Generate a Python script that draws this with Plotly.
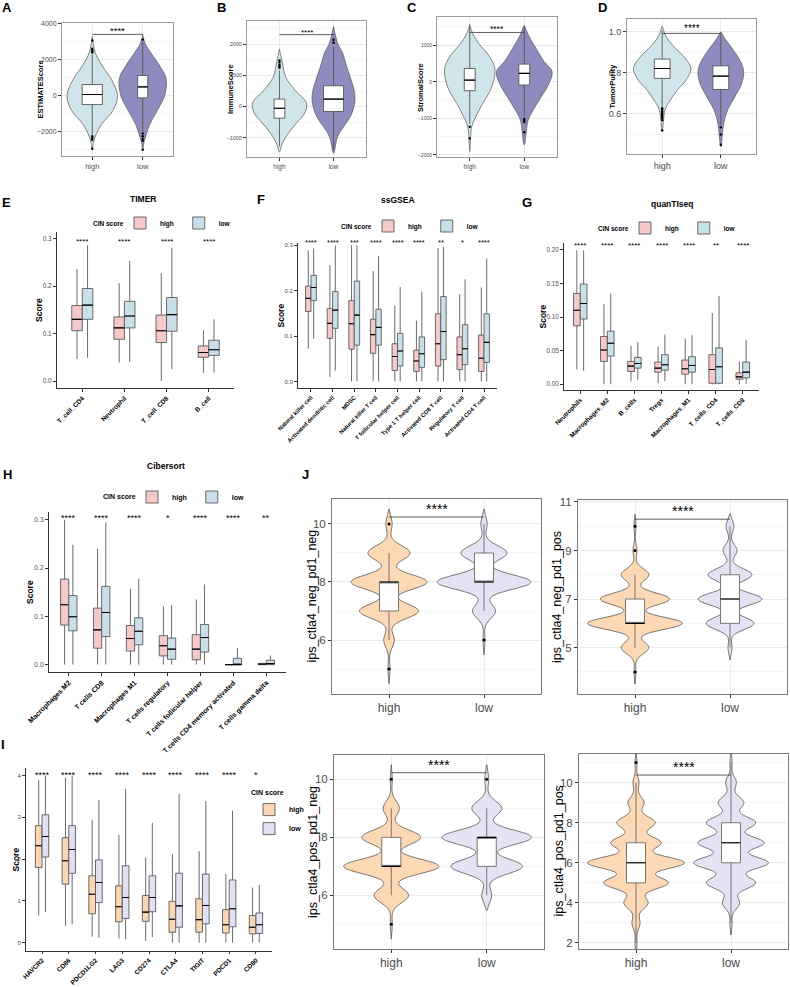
import numpy as np
import plotly.graph_objects as go

W, H = 790, 987
FONT = "Liberation Sans, Arial, Helvetica, sans-serif"
TXT = "#4D4D4D"
AX = "#333333"
GRID = "#EBEBEB"
GRID_MINOR = "#F5F5F5"

groups = ["high", "low"]

# ---------------- A-D : violin density profiles (relative density) + box stats ----------------
A_high_y = [-3000, -2600, -2260, -1610, -780, 0, 890, 1630, 2370, 2800, 3260]
A_high_d = [0, 0.05, 0.12, 0.36, 0.84, 1.0, 0.76, 0.40, 0.12, 0.05, 0]
A_low_y = [-3000, -2600, -2260, -1610, -780, 55, 980, 1630, 2370, 2900, 3390]
A_low_d = [0, 0.05, 0.13, 0.30, 0.65, 0.96, 1.0, 0.74, 0.35, 0.10, 0]
A_q1 = [-500, -130]; A_med = [55, 480]; A_q3 = [610, 1110]; A_lo = [-2150, -1990]; A_hi = [2270, 2970]
A_high_out = [2380, 2450, 2520, 2600, 3050, -2250, -2350, -2450, -2950]
A_low_out = [3100, -2100, -2250, -2400, -2500, -3000]

B_high_y = [-1450, -1180, -860, -535, -215, 110, 540, 970, 1400, 1850]
B_high_d = [0, 0.11, 0.33, 0.63, 0.93, 1.0, 0.56, 0.22, 0.11, 0]
B_low_y = [-1500, -970, -645, -320, 110, 430, 805, 1290, 1720, 2045, 2580]
B_low_d = [0, 0.19, 0.48, 0.80, 1.0, 1.0, 0.86, 0.62, 0.43, 0.19, 0]
B_q1 = [-375, -160]; B_med = [-55, 240]; B_q3 = [240, 670]; B_lo = [-1280, -1400]; B_hi = [1160, 1915]
B_high_out = [1250, 1300, 1350, 1420, 1480]
B_low_out = [2050, 2150]

C_high_y = [-1910, -1230, -910, -590, -270, 45, 365, 685, 1050, 1320, 1570]
C_high_d = [0, 0.08, 0.28, 0.52, 0.80, 0.96, 1.0, 0.80, 0.36, 0.12, 0]
C_low_y = [-1730, -1050, -775, -410, -45, 280, 555, 866, 1230, 1550]
C_low_d = [0, 0.14, 0.32, 0.61, 0.89, 1.0, 0.71, 0.46, 0.18, 0]
C_q1 = [-245, -90]; C_med = [45, 230]; C_q3 = [365, 483]; C_lo = [-1150, -940]; C_hi = [1530, 1520]
C_high_out = [-1230, -1550]
C_low_out = [-1020, -1060, -1100, -1380]

D_high_y = [0.515, 0.62, 0.666, 0.715, 0.764, 0.821, 0.878, 0.927, 0.976, 1.028]
D_high_d = [0, 0.10, 0.28, 0.52, 0.83, 1.0, 0.76, 0.41, 0.14, 0]
D_low_y = [0.44, 0.555, 0.62, 0.683, 0.748, 0.805, 0.854, 0.915, 0.96, 1.0]
D_low_d = [0, 0.13, 0.30, 0.61, 0.91, 1.0, 0.87, 0.52, 0.22, 0]
D_q1 = [0.773, 0.719]; D_med = [0.821, 0.784]; D_q3 = [0.867, 0.834]; D_lo = [0.635, 0.547]; D_hi = [1.005, 0.99]
D_high_out = [0.628, 0.62, 0.612, 0.605, 0.598, 0.59, 0.58, 0.57, 0.52]
D_low_out = [0.535, 0.50, 0.45]

# ---------------- E : TIMER ----------------
E_cats = ["T_cell_CD4", "Neutrophil", "T_cell_CD8", "B_cell"]
E_sig = ["****", "****", "****", "****"]
E_high_lo = [0.046, 0.039, 0.000, 0.017]
E_high_q1 = [0.106, 0.088, 0.081, 0.050]
E_high_med = [0.130, 0.112, 0.106, 0.060]
E_high_q3 = [0.159, 0.135, 0.139, 0.074]
E_high_hi = [0.236, 0.206, 0.227, 0.107]
E_low_lo = [0.049, 0.040, 0.025, 0.018]
E_low_q1 = [0.130, 0.112, 0.105, 0.054]
E_low_med = [0.160, 0.137, 0.140, 0.066]
E_low_q3 = [0.195, 0.168, 0.176, 0.086]
E_low_hi = [0.286, 0.253, 0.281, 0.130]

# ---------------- F : ssGSEA ----------------
F_cats = ["Natural killer cell", "Activated dendritic cell", "MDSC", "Natural killer T cell",
          "T follicular helper cell", "Type 1 T helper cell", "Activated CD8 T cell",
          "Regulatory T cell", "Activated CD4 T cell"]
F_sig = ["****", "****", "***", "****", "****", "****", "**", "*", "****"]
F_high_lo = [0.072, 0.010, 0, 0, 0, 0, 0, 0, 0]
F_high_q1 = [0.154, 0.095, 0.071, 0.062, 0.024, 0.022, 0.034, 0.026, 0.022]
F_high_med = [0.183, 0.128, 0.127, 0.103, 0.055, 0.045, 0.083, 0.059, 0.051]
F_high_q3 = [0.210, 0.161, 0.178, 0.137, 0.083, 0.069, 0.149, 0.098, 0.102]
F_high_hi = [0.289, 0.256, 0.300, 0.243, 0.167, 0.134, 0.294, 0.192, 0.207]
F_low_lo = [0.094, 0.024, 0, 0, 0, 0, 0, 0, 0]
F_low_q1 = [0.178, 0.117, 0.080, 0.080, 0.034, 0.031, 0.048, 0.037, 0.042]
F_low_med = [0.207, 0.157, 0.146, 0.119, 0.067, 0.061, 0.110, 0.072, 0.086]
F_low_q3 = [0.234, 0.198, 0.221, 0.159, 0.106, 0.098, 0.187, 0.125, 0.149]
F_low_hi = [0.293, 0.300, 0.300, 0.276, 0.208, 0.198, 0.296, 0.225, 0.271]

# ---------------- G : quanTIseq ----------------
G_cats = ["Neutrophils", "Macrophages_M2", "B_cells", "Tregs", "Macrophages_M1", "T_cells_CD4", "T_cells_CD8"]
G_sig = ["****", "****", "****", "****", "****", "**", "****"]
G_high_lo = [0.022, 0, 0.004, 0.0015, 0, 0, 0]
G_high_q1 = [0.087, 0.034, 0.019, 0.018, 0.015, 0.0015, 0.0075]
G_high_med = [0.110, 0.051, 0.027, 0.024, 0.023, 0.022, 0.011]
G_high_q3 = [0.135, 0.071, 0.034, 0.033, 0.036, 0.044, 0.017]
G_high_hi = [0.199, 0.119, 0.057, 0.056, 0.068, 0.106, 0.034]
G_low_lo = [0.020, 0, 0.0065, 0.0045, 0, 0, 0.001]
G_low_q1 = [0.097, 0.042, 0.024, 0.021, 0.018, 0.0015, 0.0095]
G_low_med = [0.120, 0.061, 0.031, 0.029, 0.028, 0.026, 0.018]
G_low_q3 = [0.149, 0.079, 0.040, 0.044, 0.041, 0.054, 0.033]
G_low_hi = [0.199, 0.135, 0.063, 0.074, 0.073, 0.131, 0.066]

# ---------------- H : Cibersort ----------------
H_cats = ["Macrophages M2", "T cells CD8", "Macrophages M1", "T cells regulatory",
          "T cells follicular helper", "T cells CD4 memory activated", "T cells gamma delta"]
H_sig = ["****", "****", "****", "*", "****", "****", "**"]
H_high_lo = [0, 0, 0, 0, 0, 0, 0]
H_high_q1 = [0.082, 0.034, 0.028, 0.018, 0.010, 0, 0]
H_high_med = [0.124, 0.072, 0.054, 0.039, 0.032, 0, 0.001]
H_high_q3 = [0.177, 0.117, 0.081, 0.060, 0.062, 0, 0.002]
H_high_hi = [0.300, 0.240, 0.157, 0.121, 0.135, 0, 0.004]
H_low_lo = [0, 0, 0, 0, 0, 0, 0]
H_low_q1 = [0.070, 0.058, 0.041, 0.011, 0.026, 0, 0]
H_low_med = [0.099, 0.108, 0.069, 0.032, 0.056, 0, 0.002]
H_low_q3 = [0.143, 0.162, 0.097, 0.055, 0.083, 0.013, 0.009]
H_low_hi = [0.248, 0.294, 0.178, 0.123, 0.166, 0.034, 0.019]

# ---------------- I : immune checkpoints ----------------
I_cats = ["HAVCR2", "CD86", "PDCD1LG2", "LAG3", "CD274", "CTLA4", "TIGIT", "PDCD1", "CD80"]
I_sig = ["****", "****", "****", "****", "****", "****", "****", "****", "*"]
I_high_lo = [0.65, 0.40, 0.14, 0.10, 0.04, 0, 0, 0, 0]
I_high_q1 = [1.80, 1.40, 0.69, 0.50, 0.51, 0.25, 0.25, 0.23, 0.21]
I_high_med = [2.32, 1.96, 1.16, 0.86, 0.73, 0.56, 0.55, 0.43, 0.37]
I_high_q3 = [2.80, 2.51, 1.60, 1.36, 1.13, 0.99, 1.05, 0.79, 0.65]
I_high_hi = [3.89, 3.95, 2.94, 2.58, 2.04, 2.12, 2.19, 1.64, 1.32]
I_low_lo = [0.73, 0.44, 0.12, 0.08, 0.13, 0, 0, 0, 0]
I_low_q1 = [2.05, 1.66, 0.96, 0.58, 0.74, 0.37, 0.45, 0.38, 0.22]
I_low_med = [2.54, 2.23, 1.44, 1.08, 1.08, 0.88, 0.89, 0.81, 0.43]
I_low_q3 = [3.06, 2.80, 1.98, 1.84, 1.60, 1.66, 1.64, 1.50, 0.71]
I_low_hi = [4.00, 4.00, 3.42, 3.68, 2.87, 3.56, 3.39, 3.16, 1.38]

# ---------------- J : IPS scores (counts of patients per integer score) ----------------
J1_vals = [5, 6, 7, 8, 9, 10]
J1_high_n = [1, 5, 28, 36, 20, 3]
J1_low_n = [0, 1, 11, 45, 22, 3]
J1_q1 = [7, 8]; J1_med = [8, 8]; J1_q3 = [8, 9]; J1_lo = [6, 7]; J1_hi = [9, 10]
J1_high_out = [5, 10]; J1_low_out = [6]

J2_vals = [4, 5, 6, 7, 8, 9, 10]
J2_high_n = [1, 14, 48, 35, 14, 2, 1]
J2_low_n = [0, 2, 24, 32, 22, 7, 4]
J2_q1 = [6, 6]; J2_med = [6, 7]; J2_q3 = [7, 8]; J2_lo = [5, 5]; J2_hi = [8, 10]
J2_high_out = [4, 9, 10]; J2_low_out = []

J3_vals = [5, 6, 7, 8, 9, 10]
J3_high_n = [1, 17, 47, 29, 8, 1]
J3_low_n = [0, 5, 36, 45, 15, 2]
J3_q1 = [7, 7]; J3_med = [7, 8]; J3_q3 = [8, 8]; J3_lo = [6, 6]; J3_hi = [9, 9]
J3_high_out = [5, 10]; J3_low_out = [10]

J4_vals = [2, 3, 4, 5, 6, 7, 8, 9, 10, 11]
J4_high_n = [1, 4, 12, 32, 48, 25, 19, 8, 3, 1]
J4_low_n = [0, 1, 8, 23, 35, 31, 23, 12, 5, 1]
J4_q1 = [5, 6]; J4_med = [6, 7]; J4_q3 = [7, 8]; J4_lo = [2, 3]; J4_hi = [10, 11]
J4_high_out = [11]; J4_low_out = []

# ---------------- colours ----------------
AD_COL = ["#CFE5EA", "#8E8CBE"]
EH_COL = ["#F5C9C9", "#C9E0EA"]
I_COL = ["#FAD6B2", "#E1E1F3"]
J_COL = ["#FCD8B5", "#E3E3F4"]

fig = go.Figure()
layout = dict(width=W, height=H, margin=dict(l=0, r=0, t=0, b=0),
              paper_bgcolor="white", plot_bgcolor="white", showlegend=True,
              boxmode="overlay", violinmode="overlay", font=dict(family=FONT, color="black"))
ann = []
shp = []
axis_idx = [0]


def _next():
    axis_idx[0] += 1
    n = axis_idx[0]
    return "" if n == 1 else str(n)


def make_axes(xdom, ydom, xcfg, ycfg):
    s = _next()
    layout["xaxis" + s] = dict(domain=[xdom[0] / W, xdom[1] / W], anchor="y" + s, automargin=False, **xcfg)
    layout["yaxis" + s] = dict(domain=[1 - ydom[1] / H, 1 - ydom[0] / H], anchor="x" + s, automargin=False, **ycfg)
    return "x" + s, "y" + s


def overlay_axes(xr, yr, xdom, ydom, xrange, yrange):
    s = _next()
    layout["xaxis" + s] = dict(domain=[xdom[0] / W, xdom[1] / W], anchor="y" + s, overlaying=xr,
                               range=xrange, visible=False, automargin=False)
    layout["yaxis" + s] = dict(domain=[1 - ydom[1] / H, 1 - ydom[0] / H], anchor="x" + s, overlaying=yr,
                               range=yrange, visible=False, automargin=False)
    return "x" + s, "y" + s


def bw_panel(xdom, ydom, yrange, tick0, dtick, mdtick, tick_fs, xtick_fs, frame, fmt):
    xcfg = dict(range=[0.4, 2.6], tickmode="array", tickvals=[1, 2], ticktext=groups,
                showgrid=True, gridcolor=GRID, gridwidth=0.8, zeroline=False, showline=True,
                mirror=True, linecolor=frame, linewidth=1, ticks="outside", ticklen=3,
                tickcolor=AX, tickwidth=0.8, tickfont=dict(size=xtick_fs, color=TXT))
    ycfg = dict(range=yrange, tickmode="linear", tick0=tick0, dtick=dtick, tickformat=fmt,
                showgrid=True, gridcolor=GRID, gridwidth=0.8, zeroline=False, showline=True,
                mirror=True, linecolor=frame, linewidth=1, ticks="outside", ticklen=3,
                tickcolor=AX, tickwidth=0.8, tickfont=dict(size=tick_fs, color=TXT),
                minor=dict(tick0=tick0, dtick=mdtick, showgrid=True, gridcolor=GRID_MINOR,
                           gridwidth=0.6, ticks=""))
    return make_axes(xdom, ydom, xcfg, ycfg)


def classic_panel(xdom, ydom, cats, yrange, dtick, fmt, ytick_fs, xtick_fs, ticklen=3):
    xcfg = dict(range=[0.4, len(cats) + 0.6], tickmode="array", tickvals=list(range(1, len(cats) + 1)),
                ticktext=cats, tickangle=-45, showgrid=False, zeroline=False, showline=True,
                linecolor=AX, linewidth=1, ticks="outside", ticklen=ticklen, tickcolor=AX, tickwidth=0.8,
                tickfont=dict(size=xtick_fs, color="black", family=FONT, weight="bold"))
    ycfg = dict(range=yrange, tickmode="linear", tick0=0, dtick=dtick, tickformat=fmt,
                showgrid=False, zeroline=False, showline=True, linecolor=AX, linewidth=1,
                ticks="outside", ticklen=3, tickcolor=AX, tickwidth=0.8,
                tickfont=dict(size=ytick_fs, color=TXT))
    return make_axes(xdom, ydom, xcfg, ycfg)


def box(xr, yr, pos, lo, q1, med, q3, hi, width, color, line_col="#555555", name=None, legend=None):
    fig.add_trace(go.Box(x=pos, q1=q1, median=med, q3=q3, lowerfence=lo, upperfence=hi,
                         orientation="v", width=width, fillcolor=color,
                         line=dict(color=line_col, width=0.9), whiskerwidth=0, boxpoints=False,
                         name=name if name else "", legend=legend if legend else "legend",
                         showlegend=legend is not None, xaxis=xr, yaxis=yr, hoverinfo="skip"))
    fig.add_trace(go.Box(x=pos, q1=med, median=med, q3=med, lowerfence=med, upperfence=med,
                         orientation="v", width=width, fillcolor="rgba(0,0,0,0)",
                         line=dict(color="black", width=1.1), whiskerwidth=0, boxpoints=False,
                         showlegend=False, xaxis=xr, yaxis=yr, hoverinfo="skip"))


def profile(xr, yr, pos, ys, dens, halfw, color):
    ys = np.asarray(ys, float)
    d = np.asarray(dens, float) * halfw
    xs = np.concatenate([pos + d, (pos - d)[::-1]])
    yy = np.concatenate([ys, ys[::-1]])
    fig.add_trace(go.Scatter(x=xs, y=yy, mode="lines", fill="toself", fillcolor=color,
                             line=dict(color="#555555", width=0.7, shape="spline", smoothing=1.0),
                             hoverinfo="skip", showlegend=False, xaxis=xr, yaxis=yr))


def outliers(xr, yr, pos, vals, size=2.6):
    if len(vals) == 0:
        return
    fig.add_trace(go.Scatter(x=[pos] * len(vals), y=vals, mode="markers",
                             marker=dict(color="black", size=size), hoverinfo="skip",
                             showlegend=False, xaxis=xr, yaxis=yr))


def text(x, y, s, size, bold=False, angle=0, color="black", xref="paper", yref="paper", xanchor="center"):
    ann.append(dict(x=x, y=y, xref=xref, yref=yref, text=s, showarrow=False, textangle=angle,
                    xanchor=xanchor, yanchor="middle",
                    font=dict(size=size, color=color, family=FONT, weight="bold" if bold else "normal")))


def bracket(xr, yr, yv, ypx_text, fs):
    shp.append(dict(type="line", xref=xr, yref=yr, x0=1, x1=2, y0=yv, y1=yv,
                    line=dict(color="#333333", width=0.8)))
    text(1.5, 1 - (ypx_text + 0.22 * fs) / H, "****", fs, xref=xr)


# ================= A-D =================
AD = [
    dict(dom=((62, 173), (23, 156)), yr=[-3350, 4020], t0=0, dt=2000, mdt=1000, tfs=7, xfs=7.5, fmt="d",
         hy=A_high_y, hd=A_high_d, ly=A_low_y, ld=A_low_d, hw=(0.5, 0.46), bw=(0.4, 0.2),
         st=(A_lo, A_q1, A_med, A_q3, A_hi), out=(A_high_out, A_low_out), title="ESTIMATEScore",
         tx=40, br=3390, brt=28, sfs=9.5),
    dict(dom=((247, 366), (21, 157)), yr=[-1623, 2752], t0=0, dt=1000, mdt=500, tfs=5.5, xfs=6.5, fmt="d",
         hy=B_high_y, hd=B_high_d, ly=B_low_y, ld=B_low_d, hw=(0.5, 0.39), bw=(0.2, 0.37),
         st=(B_lo, B_q1, B_med, B_q3, B_hi), out=(B_high_out, B_low_out), title="ImmuneScore",
         tx=230, br=2313, brt=31, sfs=8),
    dict(dom=((437, 557), (17, 157)), yr=[-2060, 1773], t0=0, dt=1000, mdt=500, tfs=5, xfs=6.5, fmt="d",
         hy=C_high_y, hd=C_high_d, ly=C_low_y, ld=C_low_d, hw=(0.46, 0.51), bw=(0.2, 0.2),
         st=(C_lo, C_q1, C_med, C_q3, C_hi), out=(C_high_out, C_low_out), title="StromalScore",
         tx=421, br=1350, brt=27, sfs=8.5),
    dict(dom=((627, 756), (19, 154)), yr=[0.405, 1.062], t0=0, dt=0.2, mdt=0.1, tfs=9, xfs=9, fmt=".1f",
         hy=D_high_y, hd=D_high_d, ly=D_low_y, ld=D_low_d, hw=(0.49, 0.39), bw=(0.27, 0.27),
         st=(D_lo, D_q1, D_med, D_q3, D_hi), out=(D_high_out, D_low_out), title="TumorPurity",
         tx=612, br=0.992, brt=26, sfs=10),
]
for p in AD:
    xr, yr = bw_panel(p["dom"][0], p["dom"][1], p["yr"], p["t0"], p["dt"], p["mdt"], p["tfs"], p["xfs"],
                      "#9A9A9A", p["fmt"])
    profile(xr, yr, 1.0, p["hy"], p["hd"], p["hw"][0], AD_COL[0])
    profile(xr, yr, 2.0, p["ly"], p["ld"], p["hw"][1], AD_COL[1])
    # boxes on an overlaying axis pair so that they sit above the filled violins
    oxr, oyr = overlay_axes(xr, yr, p["dom"][0], p["dom"][1], [0.4, 2.6], p["yr"])
    lo, q1, med, q3, hi = p["st"]
    for g in range(2):
        box(oxr, oyr, [g + 1], [lo[g]], [q1[g]], [med[g]], [q3[g]], [hi[g]], p["bw"][g], "white", "#555555")
        outliers(oxr, oyr, g + 1, p["out"][g], size=2.4)
    bracket(xr, yr, p["br"], p["brt"], p["sfs"])
    ymid = (p["dom"][1][0] + p["dom"][1][1]) / 2
    text(p["tx"] / W, 1 - ymid / H, p["title"], 7.5, bold=True, angle=-90)

# ================= E-I =================
EI = [
    dict(dom=((57, 234), (232, 388)), cats=E_cats, sig=E_sig, yr=[-0.0147, 0.314], dt=0.1, fmt=".1f",
         tfs=6.5, xfs=6.5, col=EH_COL, sigy=240, sfs=8, tx=39, tl=3,
         h=(E_high_lo, E_high_q1, E_high_med, E_high_q3, E_high_hi),
         l=(E_low_lo, E_low_q1, E_low_med, E_low_q3, E_low_hi), leg="legend"),
    dict(dom=((298, 497), (243, 388)), cats=F_cats, sig=F_sig, yr=[-0.0145, 0.305], dt=0.1, fmt=".1f",
         tfs=6, xfs=5.8, col=EH_COL, sigy=241, sfs=7.5, tx=280, tl=3,
         h=(F_high_lo, F_high_q1, F_high_med, F_high_q3, F_high_hi),
         l=(F_low_lo, F_low_q1, F_low_med, F_low_q3, F_low_hi), leg="legend2"),
    dict(dom=((564, 759), (243, 390)), cats=G_cats, sig=G_sig, yr=[-0.0085, 0.210], dt=0.05, fmt=".2f",
         tfs=6.3, xfs=6.3, col=EH_COL, sigy=244, sfs=8, tx=543, tl=3,
         h=(G_high_lo, G_high_q1, G_high_med, G_high_q3, G_high_hi),
         l=(G_low_lo, G_low_q1, G_low_med, G_low_q3, G_low_hi), leg="legend3"),
    dict(dom=((49, 286), (512, 672)), cats=H_cats, sig=H_sig, yr=[-0.0153, 0.316], dt=0.1, fmt=".1f",
         tfs=6.7, xfs=7, col=EH_COL, sigy=516, sfs=9, tx=30, tl=3,
         h=(H_high_lo, H_high_q1, H_high_med, H_high_q3, H_high_hi),
         l=(H_low_lo, H_low_q1, H_low_med, H_low_q3, H_low_hi), leg="legend4"),
    dict(dom=((26, 272), (768, 951)), cats=I_cats, sig=I_sig, yr=[-0.2, 4.18], dt=1, fmt="d",
         tfs=6, xfs=6.5, col=I_COL, sigy=773, sfs=9, tx=15, tl=2,
         h=(I_high_lo, I_high_q1, I_high_med, I_high_q3, I_high_hi),
         l=(I_low_lo, I_low_q1, I_low_med, I_low_q3, I_low_hi), leg="legend5"),
]
for p in EI:
    xr, yr = classic_panel(p["dom"][0], p["dom"][1], p["cats"], p["yr"], p["dt"], p["fmt"], p["tfs"],
                           p["xfs"], p["tl"])
    n = len(p["cats"])
    for g, (st, off) in enumerate([(p["h"], -0.125), (p["l"], 0.125)]):
        pos = [i + 1 + off for i in range(n)]
        box(xr, yr, pos, st[0], st[1], st[2], st[3], st[4], 0.25, p["col"][g], "#5A5A5A",
            name=groups[g], legend=p["leg"])
    for i, s in enumerate(p["sig"]):
        text(i + 1, 1 - (p["sigy"] + 0.22 * p["sfs"]) / H, s, p["sfs"], xref=xr)
    ymid = (p["dom"][1][0] + p["dom"][1][1]) / 2
    text(p["tx"] / W, 1 - ymid / H, "Score", 8.5, bold=True, angle=-90)


def hleg(x0, cy, fs):
    # horizontal legend (items only); its title is written just to its left
    text((x0 + 6) / W, 1 - cy / H, "CIN score", fs, bold=True, xanchor="right")
    return dict(x=x0 / W, y=1 - cy / H, xanchor="left", yanchor="middle", orientation="h",
                font=dict(size=fs, weight="bold", family=FONT, color="black"),
                bgcolor="rgba(0,0,0,0)", itemwidth=30, tracegroupgap=0)


layout["legend"] = hleg(120, 223, 6.5)
layout["legend2"] = hleg(368, 226, 6.5)
layout["legend3"] = hleg(625, 228, 6.5)
layout["legend4"] = hleg(132, 497, 7)
layout["legend5"] = dict(x=249 / W, y=1 - 786 / H, xanchor="left", yanchor="top", orientation="v",
                         title=dict(text="CIN score", side="top", font=dict(size=7, weight="bold", family=FONT)),
                         font=dict(size=7, weight="bold", family=FONT, color="black"),
                         bgcolor="rgba(0,0,0,0)", itemwidth=30, tracegroupgap=0)

# panel titles
text(143 / W, 1 - 199 / H, "TIMER", 8.5, bold=True)
text(398 / W, 1 - 200 / H, "ssGSEA", 8.5, bold=True)
text(672 / W, 1 - 204 / H, "quanTIseq", 8.5, bold=True)
text(166 / W, 1 - 466 / H, "Cibersort", 8.5, bold=True)

# ================= J =================
JP = [
    dict(dom=((332, 541), (499, 694)), yr=[4.14, 10.86], t0=0, dt=2, vals=J1_vals, n=(J1_high_n, J1_low_n),
         st=(J1_lo, J1_q1, J1_med, J1_q3, J1_hi), out=(J1_high_out, J1_low_out), w=(0.8, 0.99), bwd=0.25,
         title="ips_ctla4_neg_pd1_neg", tx=311, br=10.24, brt=506),
    dict(dom=((578, 787), (500, 694)), yr=[3.09, 11.08], t0=1, dt=2, vals=J2_vals, n=(J2_high_n, J2_low_n),
         st=(J2_lo, J2_q1, J2_med, J2_q3, J2_hi), out=(J2_high_out, J2_low_out), w=(1.0, 0.67), bwd=0.25,
         title="ips_ctla4_neg_pd1_pos", tx=557, br=10.29, brt=508),
    dict(dom=((334, 544), (755, 949)), yr=[4.15, 10.84], t0=0, dt=2, vals=J3_vals, n=(J3_high_n, J3_low_n),
         st=(J3_lo, J3_q1, J3_med, J3_q3, J3_hi), out=(J3_high_out, J3_low_out), w=(1.0, 0.94), bwd=0.25,
         title="ips_ctla4_pos_pd1_neg", tx=313, br=10.23, brt=762),
    dict(dom=((579, 788), (754, 949)), yr=[1.7, 11.43], t0=0, dt=2, vals=J4_vals, n=(J4_high_n, J4_low_n),
         st=(J4_lo, J4_q1, J4_med, J4_q3, J4_hi), out=(J4_high_out, J4_low_out), w=(1.02, 0.79), bwd=0.3,
         title="ips_ctla4_pos_pd1_pos", tx=558, br=10.38, brt=764),
]
for p in JP:
    xr, yr = bw_panel(p["dom"][0], p["dom"][1], p["yr"], p["t0"], p["dt"], 1, 11.5, 12, "#7A7A7A", "d")
    for g in range(2):
        samples = np.repeat(np.asarray(p["vals"], float), p["n"][g])
        fig.add_trace(go.Violin(x=np.full(len(samples), g + 1.0), y=samples, orientation="v",
                                width=p["w"][g], scalemode="width", bandwidth=p["bwd"], spanmode="soft",
                                points=False, box_visible=False, meanline_visible=False,
                                fillcolor=J_COL[g], line=dict(color="#444444", width=0.7),
                                hoverinfo="skip", showlegend=False, xaxis=xr, yaxis=yr))
    lo, q1, med, q3, hi = p["st"]
    for g in range(2):
        box(xr, yr, [g + 1], [lo[g]], [q1[g]], [med[g]], [q3[g]], [hi[g]], 0.2, "white", "#6A6A6A")
        outliers(xr, yr, g + 1, p["out"][g], size=3)
    bracket(xr, yr, p["br"], p["brt"], 14)
    ymid = (p["dom"][1][0] + p["dom"][1][1]) / 2
    text(p["tx"] / W, 1 - ymid / H, p["title"], 12.5, angle=-90, color="black")

# panel letters
for s, x, y in [("A", 7, 8), ("B", 221, 7), ("C", 412, 8), ("D", 602, 8), ("E", 6, 202), ("F", 261, 199),
                ("G", 527, 203), ("H", 7, 474), ("J", 305, 474), ("I", 3, 744)]:
    text(x / W, 1 - y / H, s, 13, bold=True)

layout["annotations"] = ann
layout["shapes"] = shp
fig.update_layout(**layout)
fig.write_html("out.html")
